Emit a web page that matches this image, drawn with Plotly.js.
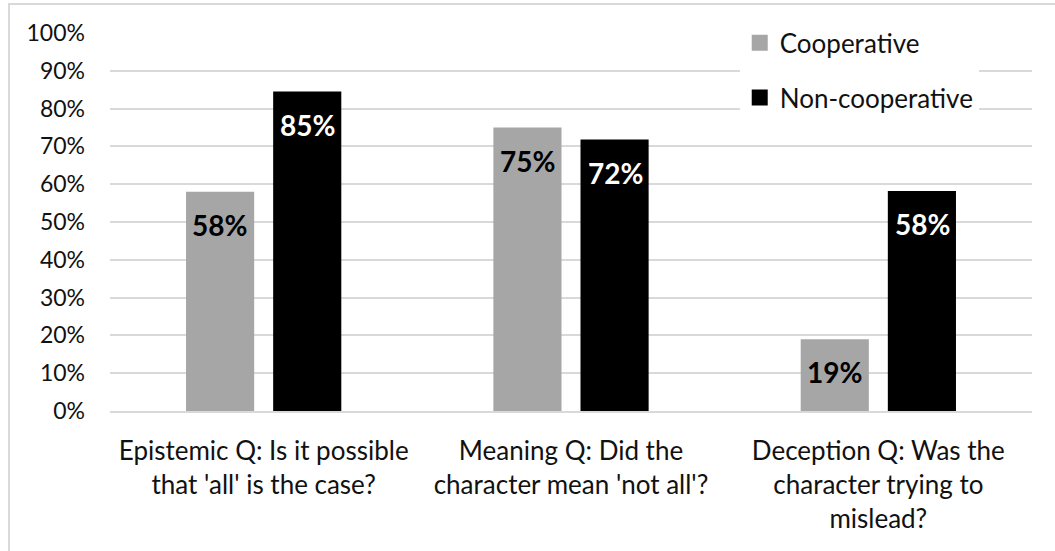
<!DOCTYPE html>
<html>
<head>
<meta charset="utf-8">
<script src="https://cdn.plot.ly/plotly-3.0.1.min.js"></script>
<style>
  html, body { margin: 0; padding: 0; background: #fff; }
  #wrap { position: relative; width: 1055px; height: 551px; overflow: hidden; }
  #chart { width: 1055px; height: 551px; }
  /* light frame around the chart area (left and top edges) */
  #frame { position: absolute; left: 8px; top: 3px; width: 1200px; height: 700px;
           border-left: 2px solid #d9d9d9; border-top: 2px solid #d9d9d9; pointer-events: none; }
</style>
</head>
<body>
<div id="wrap">
  <div id="chart"></div>
  <div id="frame"></div>
</div>
<script>
// Question categories (x axis)
const categories = [
  "Epistemic Q: Is it possible<br>that 'all' is the case?",
  "Meaning Q: Did the<br>character mean 'not all'?",
  "Deception Q: Was the<br>character trying to<br>mislead?"
];
// Share of participants per condition
const cooperative = [0.58, 0.75, 0.19];
const nonCooperative = [0.845, 0.718, 0.582];
const seriesNames = ["Cooperative", "Non-cooperative"];
const yTicks = [0, 0.1, 0.2, 0.3, 0.4, 0.5, 0.6, 0.7, 0.8, 0.9, 1.0];

const FONT = "Lato, 'Open Sans', sans-serif";
const GRAY = "#a6a6a6";
const BLACK = "#000000";

const pct = v => Math.round(v * 100) + "%";

const traces = [
  {
    type: "bar", name: seriesNames[0], x: categories, y: cooperative,
    marker: { color: GRAY }, showlegend: false, hoverinfo: "none"
  },
  {
    type: "bar", name: seriesNames[1], x: categories, y: nonCooperative,
    marker: { color: BLACK }, showlegend: false, hoverinfo: "none"
  },
  // legend entries with larger square swatches
  {
    type: "scatter", mode: "markers", name: seriesNames[0], x: [null], y: [null],
    marker: { symbol: "square", size: 16, color: GRAY }, legendgroup: "a"
  },
  {
    type: "scatter", mode: "markers", name: seriesNames[1], x: [null], y: [null],
    marker: { symbol: "square", size: 16, color: BLACK }, legendgroup: "b"
  }
];

// value labels placed inside the top of each bar
const annotations = [];
const groupShift = 44;
cooperative.forEach((v, i) => annotations.push({
  x: categories[i], y: v, xref: "x", yref: "y", text: "<b>" + pct(v) + "</b>",
  showarrow: false, xshift: -groupShift, yshift: -33, yanchor: "middle",
  font: { family: FONT, size: 28, color: "#000" }
}));
nonCooperative.forEach((v, i) => annotations.push({
  x: categories[i], y: v, xref: "x", yref: "y", text: "<b>" + pct(v) + "</b>",
  showarrow: false, xshift: groupShift, yshift: -33, yanchor: "middle",
  font: { family: FONT, size: 28, color: "#fff" }
}));

const layout = {
  width: 1055, height: 551,
  margin: { l: 110, r: 23, t: 33, b: 140 },
  paper_bgcolor: "#fff", plot_bgcolor: "#fff",
  font: { family: FONT, size: 23, color: "#111" },
  barmode: "group", bargap: 0.433, bargroupgap: 0.218,
  xaxis: {
    showgrid: false, zeroline: false, showline: true, linecolor: "#d9d9d9", linewidth: 2,
    ticks: "", ticklabelstandoff: 16, tickfont: { family: FONT, size: 26, color: "#111" }
  },
  yaxis: {
    range: [0, 1], tickvals: yTicks, ticktext: yTicks.map(pct),
    showgrid: true, gridcolor: "#d9d9d9", gridwidth: 2, zeroline: false,
    ticks: "", ticklabelstandoff: 24, tickfont: { family: FONT, size: 23, color: "#111" }
  },
  legend: {
    x: 0.683, y: 1.036, xanchor: "left", yanchor: "top",
    bgcolor: "#fff", tracegroupgap: 18, itemwidth: 30,
    entrywidth: 330, entrywidthmode: "pixels",
    font: { family: FONT, size: 26, color: "#111" }
  },
  annotations: annotations,
  showlegend: true
};

Plotly.newPlot("chart", traces, layout, { displayModeBar: false, staticPlot: true });
</script>
</body>
</html>
